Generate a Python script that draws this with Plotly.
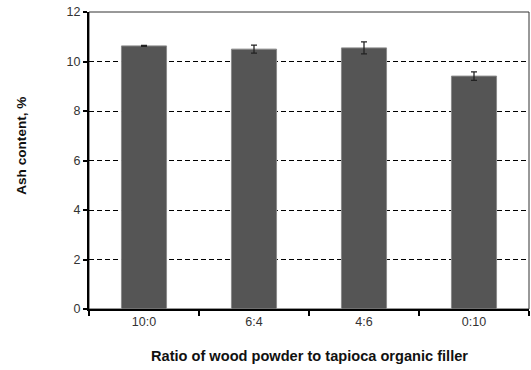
import plotly.graph_objects as go

categories = ["10:0", "6:4", "4:6", "0:10"]
ash_content = [10.63, 10.50, 10.55, 9.41]
ash_error = [0.02, 0.16, 0.24, 0.17]
y_ticks = [0, 2, 4, 6, 8, 10, 12]

fig = go.Figure()
fig.add_trace(go.Bar(
    x=categories, y=ash_content,
    width=0.41,
    marker=dict(color="#555555", line=dict(color="#8a8a8a", width=1)),
    error_y=dict(type="data", array=ash_error, visible=True,
                 color="#222222", thickness=1.3, width=3),
))

font = "Liberation Sans, Arial, sans-serif"
fig.update_layout(
    width=531, height=370,
    margin=dict(l=89, r=2, t=12, b=61),
    paper_bgcolor="white", plot_bgcolor="white",
    showlegend=False,
    font=dict(family=font, size=12, color="#222222"),
    xaxis=dict(
        showline=True, linecolor="black", linewidth=2,
        ticks="outside", tickson="boundaries", ticklen=5, tickcolor="black", tickwidth=1.5,
        tickfont=dict(size=12.5, color="#333333"),
        showgrid=False,
    ),
    yaxis=dict(
        range=[0, 12], tickvals=y_ticks,
        showline=True, linecolor="black", linewidth=2,
        ticks="outside", ticklen=4, tickcolor="black", tickwidth=1.5,
        tickfont=dict(size=12.5, color="#333333"),
        showgrid=True, gridcolor="black", griddash="5px,3px", gridwidth=1,
        zeroline=False,
    ),
    annotations=[
        dict(text="<b>Ratio of wood powder to tapioca organic filler</b>",
             xref="paper", yref="paper", x=0.5, y=-0.158, xanchor="center", yanchor="middle",
             showarrow=False, font=dict(size=14.6, color="#111111")),
        dict(text="<b>Ash content, %</b>", textangle=-90,
             xref="paper", yref="paper", x=-0.152, y=0.55, xanchor="center", yanchor="middle",
             showarrow=False, font=dict(size=13.6, color="#111111")),
    ],
)
# thin frame on top and right
fig.add_shape(type="rect", xref="paper", yref="paper", x0=0, x1=1, y0=0, y1=1,
              line=dict(color="#333333", width=1), layer="below")

fig.write_html("out.html")
